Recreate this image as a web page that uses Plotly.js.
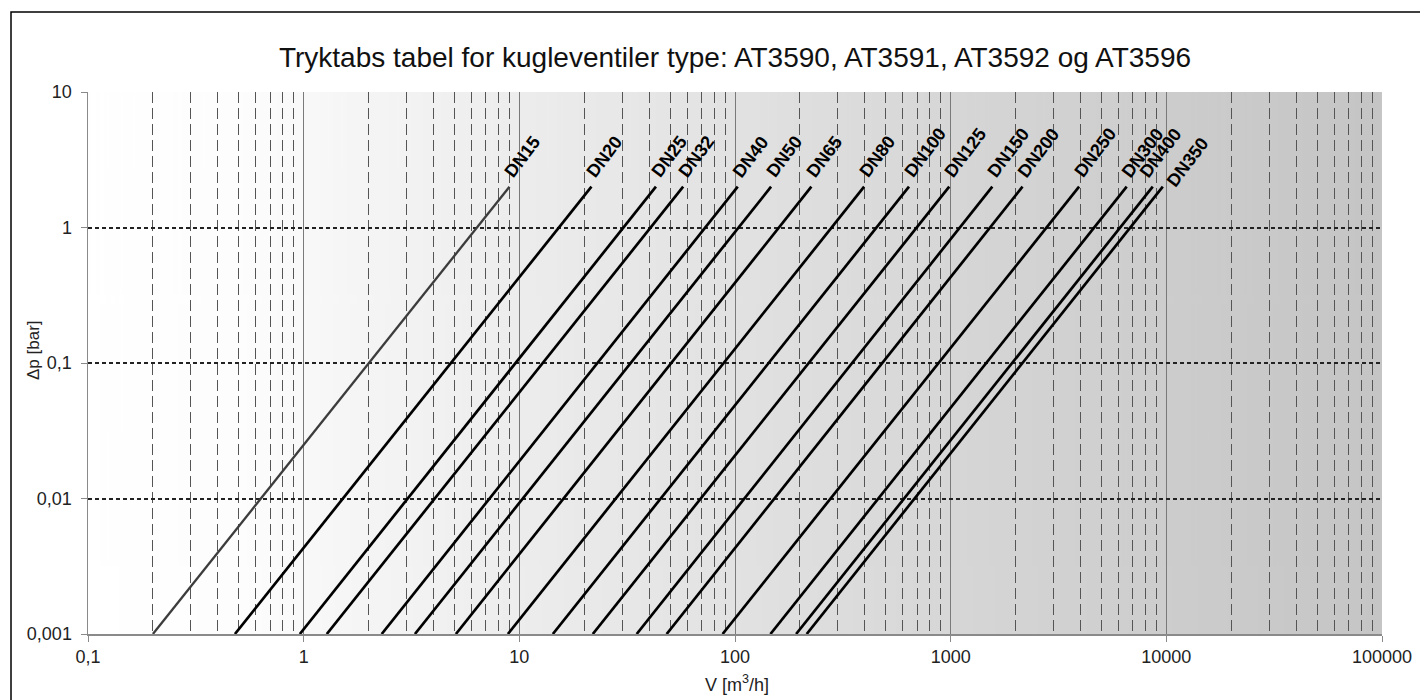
<!DOCTYPE html>
<html>
<head>
<meta charset="utf-8">
<script src="https://cdn.plot.ly/plotly-3.0.1.min.js"></script>
<style>
  html, body { margin: 0; padding: 0; background: #ffffff; }
  #chart { width: 1420px; height: 700px; }
</style>
</head>
<body>
<div id="chart"></div>
<script>
// ---- Data ----
const sizes = ['DN15','DN20','DN25','DN32','DN40','DN50','DN65','DN80','DN100','DN125','DN150','DN200','DN250','DN300','DN400','DN350'];
// flow [m3/h] at the lower end (dp = 0.001 bar) of every line
const flowLow  = [0.2, 0.48, 0.96, 1.28, 2.3, 3.28, 5.08, 8.85, 14.3, 21.9, 35, 48.2, 87.6, 146, 192, 215];
// flow [m3/h] at the upper end (dp = 2 bar) of every line
const flowHigh = [9.0, 21.6, 43, 57.5, 103, 147, 226, 397, 641, 985, 1560, 2154, 3940, 6550, 8650, 9630];
// pressure drop [bar] at the two ends
const dpEnds = [0.001, 2];

const xTickVals = [0.1, 1, 10, 100, 1000, 10000, 100000];
const xTickText = ['0,1', '1', '10', '100', '1000', '10000', '100000'];
const yTickVals = [0.001, 0.01, 0.1, 1, 10];
const yTickText = ['0,001', '0,01', '0,1', '1', '10'];

const titleText = 'Tryktabs tabel for kugleventiler type: AT3590, AT3591, AT3592 og AT3596';
const xTitle = 'V [m<sup>3</sup>/h]';
const yTitle = '\u0394p [bar]';

// label nudges (pixels) for crowded labels — styling only
const labelNudge = { DN400: [-8, 0], DN350: [9, -9] };

// ---- minor grid positions (2..9 within each decade) ----
const minorX = [];
for (let e = -1; e < 5; e++) {
  for (let k = 2; k <= 9; k++) minorX.push(k * Math.pow(10, e));
}

// ---- background gradient as image ----
function gradientURL() {
  const c = document.createElement('canvas');
  c.width = 600; c.height = 4;
  const g = c.getContext('2d');
  const gr = g.createLinearGradient(0, 0, 600, 0);
  gr.addColorStop(0.00, '#ffffff');
  gr.addColorStop(0.12, '#fdfdfd');
  gr.addColorStop(0.20, '#f6f6f6');
  gr.addColorStop(0.33, '#ededed');
  gr.addColorStop(0.50, '#e2e2e2');
  gr.addColorStop(0.66, '#d7d7d7');
  gr.addColorStop(0.83, '#cdcdcd');
  gr.addColorStop(1.00, '#c5c5c5');
  g.fillStyle = gr;
  g.fillRect(0, 0, 600, 4);
  return c.toDataURL('image/png');
}

const FONT = 'Liberation Sans, Arial, sans-serif';

const traces = sizes.map((name, i) => ({
  type: 'scatter',
  mode: 'lines',
  name: name,
  x: [flowLow[i], flowHigh[i]],
  y: dpEnds,
  line: { color: i === 0 ? '#3c3c3c' : '#000000', width: i === 0 ? 2.3 : 2.7 },
  hoverinfo: 'name+x+y',
  showlegend: false
}));

const annotations = sizes.map((name, i) => {
  const n = labelNudge[name] || [0, 0];
  return {
    x: Math.log10(flowHigh[i]),
    y: Math.log10(dpEnds[1]),
    xref: 'x', yref: 'y',
    text: '<b>' + name + '</b>',
    showarrow: false,
    textangle: -53,
    xanchor: 'left', yanchor: 'bottom',
    xshift: -12 + n[0], yshift: 3 + n[1],
    font: { family: FONT, size: 18, color: '#000000' }
  };
});

annotations.push({
  x: (737 - 88) / 1294, y: (634 - 683) / 542, xref: 'paper', yref: 'paper',
  text: xTitle, showarrow: false,
  xanchor: 'center', yanchor: 'middle',
  font: { family: FONT, size: 18, color: '#222222' }
});
annotations.push({
  x: (33 - 88) / 1294, y: (634 - 350) / 542, xref: 'paper', yref: 'paper',
  text: yTitle, showarrow: false, textangle: -90,
  xanchor: 'center', yanchor: 'middle',
  font: { family: FONT, size: 17, color: '#222222' }
});

const layout = {
  width: 1420, height: 700,
  margin: { l: 88, r: 38, t: 92, b: 66 },
  paper_bgcolor: '#ffffff',
  plot_bgcolor: '#ffffff',
  title: {
    text: titleText,
    x: 735 / 1420, xanchor: 'center', xref: 'container',
    y: 1 - 57 / 700, yanchor: 'middle', yref: 'container',
    font: { family: FONT, size: 28, color: '#111111' }
  },
  xaxis: {
    type: 'log', range: [-1, 5],
    tickmode: 'array', tickvals: xTickVals, ticktext: xTickText,
    showgrid: true, gridcolor: '#7a7a7a', gridwidth: 1,
    showline: true, linecolor: '#8a8a8a', linewidth: 1.5,
    ticks: 'outside', ticklen: 6, tickcolor: '#8a8a8a', tickwidth: 1,
    tickfont: { family: FONT, size: 18, color: '#222222' },
    zeroline: false, fixedrange: true,
    minor: {
      tickmode: 'array', tickvals: minorX,
      showgrid: true, gridcolor: '#555555', gridwidth: 1, griddash: '11px,5px',
      ticks: ''
    }
  },
  yaxis: {
    type: 'log', range: [-3, 1],
    tickmode: 'array', tickvals: yTickVals, ticktext: yTickText,
    showgrid: true, gridcolor: '#222222', gridwidth: 2, griddash: '4px,3px',
    showline: true, linecolor: '#8a8a8a', linewidth: 1.5,
    ticks: 'outside', ticklen: 6, tickcolor: '#8a8a8a', tickwidth: 1,
    ticklabelstandoff: 5,
    tickfont: { family: FONT, size: 18, color: '#222222' },
    zeroline: false, fixedrange: true
  },
  images: [{
    source: gradientURL(),
    xref: 'paper', yref: 'paper', x: 0, y: 1, sizex: 1, sizey: 1,
    xanchor: 'left', yanchor: 'top', sizing: 'stretch', layer: 'below'
  }],
  shapes: [{
    type: 'rect', xref: 'paper', yref: 'paper',
    x0: -0.0595, x1: 1.6, y0: -0.6, y1: (634 - 12) / 542,
    line: { color: '#000000', width: 1.5 }, fillcolor: 'rgba(0,0,0,0)', layer: 'above'
  }],
  annotations: annotations,
  showlegend: false
};

Plotly.newPlot('chart', traces, layout, { displayModeBar: false, staticPlot: true });
</script>
</body>
</html>
